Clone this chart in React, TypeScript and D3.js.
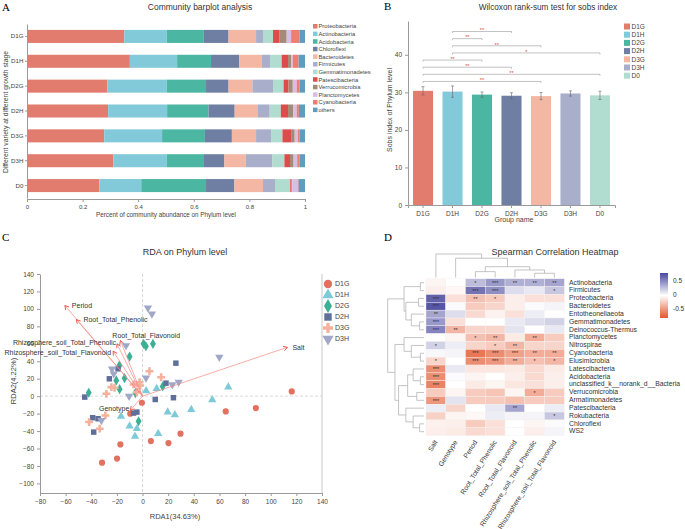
import React, { useRef, useEffect } from "react";
import * as d3 from "d3";

const W = 685;
const H = 529;
const FONT = "Liberation Sans, Arial, sans-serif";
const SERIF = "Liberation Serif, Times New Roman, serif";
const AXIS = "#9a9a9a";
const TXT = "#444";

// ---------- A: community barplot ----------
const groups = ["D1G", "D1H", "D2G", "D2H", "D3G", "D3H", "D0"];
const phyla = [
  "Proteobacteria", "Actinobacteria", "Acidobacteria", "Chloroflexi", "Bacteroidetes", "Firmicutes",
  "Gemmatimonadetes", "Patescibacteria", "Verrucomicrobia", "Planctomycetes", "Cyanobacteria", "others",
];
const phylaColors = [
  "#E27C6E", "#82CAD9", "#4BB6A1", "#6E7FA3", "#F3B7A3", "#A9AECB",
  "#B0DDD0", "#DD4B4B", "#A48B78", "#D8BEE3", "#EE7D72", "#5E9DBE",
];
// percent per group (D1G, D1H, D2G, D2H, D3G, D3H, D0)
const proteobacteria = [35.0, 37.0, 28.9, 29.2, 27.8, 31.1, 26.0];
const actinobacteria = [15.3, 17.0, 21.4, 21.2, 20.8, 19.2, 15.1];
const acidobacteria = [13.3, 12.2, 14.1, 14.9, 15.4, 13.1, 23.3];
const chloroflexi = [8.9, 10.1, 8.1, 9.4, 9.7, 7.6, 10.2];
const bacteroidetes = [9.9, 8.2, 8.6, 8.4, 8.7, 7.7, 10.3];
const firmicutes = [2.5, 2.9, 7.4, 4.2, 5.4, 9.6, 4.3];
const gemmatimonadetes = [3.6, 4.2, 3.8, 4.0, 4.1, 4.3, 5.5];
const patescibacteria = [2.2, 2.3, 1.8, 2.6, 3.1, 2.0, 0.4];
const verrucomicrobia = [2.7, 1.1, 1.5, 1.9, 1.3, 1.3, 0.3];
const planctomycetes = [1.6, 0.6, 1.4, 1.2, 1.1, 1.3, 2.0];
const cyanobacteria = [3.0, 2.1, 1.0, 0.8, 0.7, 0.9, 0.3];
const others = [2.0, 2.3, 2.0, 2.2, 1.9, 1.9, 2.3];

// ---------- B: sobs index ----------
const sobsMean = [30.4, 30.2, 29.4, 29.1, 29.0, 29.7, 29.2];
const sobsErr = [1.1, 1.5, 0.7, 0.8, 0.95, 0.7, 1.1];
const groupColors = ["#E27C6E", "#82CAD9", "#4BB6A1", "#6E7FA3", "#F3B7A3", "#A9AECB", "#B0DDD0"];
const sigFrom = ["D1G", "D1G", "D1G", "D1G", "D1H", "D1H", "D1H", "D1H"];
const sigTo = ["D3G", "D0", "D2H", "D2G", "D0", "D3G", "D2G", "D2H"];
const sigMark = ["**", "**", "**", "**", "*", "**", "**", "**"];

// ---------- C: RDA ----------
const rdaD1G = [[-0.5, -7.6], [-9.6, -20.1], [-17.3, -55.3], [-31.6, -76.2], [-19.9, -71.6], [6.5, -51.5], [20.2, -53.8], [29.6, -43], [64.9, -17.5], [88.4, -13.7], [116.4, 5.4]];
const rdaD1H = [[-16.8, -23.2], [-10.1, -34.3], [-4.4, -37.3], [-5.9, -46.1], [12.2, -43], [2.8, 6], [11, 8.8], [19.6, -18.3], [25.2, -21.3], [38, -15.4], [54.4, -4.1], [66.9, 10.3]];
const rdaD2G = [[-42, 3.9], [-18.1, 35.1], [-10.1, 45.4], [-14, 20.6], [-20.5, 18], [-17.9, 8], [-5.6, 3.5], [-3.1, -28.9], [0.8, 60], [2.6, 57.2], [8.1, 60], [15.7, 11.1]];
const rdaD2H = [[-45.1, -1.1], [-25.9, 19.9], [-19.1, 31.3], [-7, -19.4], [-4.4, -18.3], [-38.9, -24.7], [-34.7, -25.9], [-38.1, -41.2], [9.9, -3.8], [18.3, 14.9], [26, 37.8], [24.1, -1.8]];
const rdaD3G = [[-41.7, -29.7], [-33.4, -37.3], [-29, -22.1], [-28.2, 2.7], [-24.3, 10.3], [-21.8, 9.6], [-7, 13.4], [-2.3, 16], [-4.4, 4.6], [5.4, 28.6], [14.5, 21.7], [-1.8, 12.2]];
const rdaD3H = [[4.2, 101.1], [7.3, 94.3], [-12.9, 58], [-23.8, 31.3], [-22.5, 25.6], [-10.5, 0], [2.7, 20.8], [-32.1, -27.8], [23.2, 13.2], [28.2, 16], [59.9, 44.6]];
const rdaGroups = ["D1G", "D1H", "D2G", "D2H", "D3G", "D3H"];
const rdaColors = ["#E4705F", "#7FCAD8", "#3DAF95", "#5F6F9A", "#F4B29E", "#A1A7C7"];
const envNames = ["Period", "Root_Total_Phenolic", "Root_Total_Flavonoid", "Rhizosphere_soil_Total_Phenolic", "Rhizosphere_soil_Total_Flavonoid", "Genotype", "Salt"];
const envX = [-60.6, -51.6, -17.3, -19.9, -23, -9.5, 113];
const envY = [103.8, 87.8, 63.7, 60, 51.5, -16.3, 56];

// ---------- D: spearman heatmap ----------
const heatCols = ["Salt", "Genotype", "Period", "Root_Total_Phenolic", "Root_Total_Flavonoid", "Rhizosphere_soil_Total_Phenolic", "Rhizosphere_soil_Total_Flavonoid"];
const heatRows = [
  "Actinobacteria", "Firmicutes", "Proteobacteria", "Bacteroidetes", "Entotheonellaeota", "Gemmatimonadetes",
  "Deinococcus-Thermus", "Planctomycetes", "Nitrospirae", "Cyanobacteria", "Elusimicrobia", "Latescibacteria",
  "Acidobacteria", "unclassified_k__norank_d__Bacteria", "Verrucomicrobia", "Armatimonadetes", "Patescibacteria",
  "Rokubacteria", "Chloroflexi", "WS2",
];
const corr = [
  [-0.05, 0.0, 0.3, 0.45, 0.35, 0.35, 0.4],
  [-0.08, -0.04, 0.62, 0.5, 0.15, 0.1, 0.25],
  [0.7, -0.15, -0.3, -0.25, -0.08, -0.15, -0.15],
  [0.75, 0.02, -0.25, -0.2, -0.08, 0.02, 0.05],
  [0.4, 0.15, -0.18, -0.06, -0.15, 0.08, 0.0],
  [0.45, -0.15, 0.0, 0.0, 0.1, 0.15, 0.2],
  [0.55, -0.35, -0.2, -0.2, 0.12, 0.0, 0.1],
  [0.0, -0.05, -0.3, -0.35, -0.1, -0.4, -0.25],
  [0.2, 0.08, -0.2, -0.25, -0.35, -0.2, -0.2],
  [0.03, 0.05, -0.65, -0.55, -0.45, -0.4, -0.4],
  [-0.2, 0.0, -0.55, -0.5, -0.4, -0.3, -0.35],
  [-0.55, 0.1, -0.12, -0.12, -0.1, -0.18, -0.1],
  [-0.55, 0.02, -0.05, 0.0, -0.08, -0.18, -0.08],
  [-0.6, 0.0, -0.1, -0.05, -0.12, -0.15, -0.08],
  [-0.25, -0.05, -0.25, -0.28, -0.05, -0.4, -0.25],
  [-0.5, 0.12, -0.25, -0.25, -0.3, -0.25, -0.25],
  [0.08, -0.2, 0.0, 0.1, 0.4, 0.0, 0.08],
  [-0.22, -0.05, -0.03, 0.08, 0.05, 0.05, 0.25],
  [-0.07, -0.08, -0.25, -0.15, 0.0, -0.05, 0.02],
  [-0.08, -0.1, -0.18, -0.15, 0.0, -0.08, 0.05],
];
const stars = [
  ["", "", "*", "***", "**", "**", "**"],
  ["", "", "***", "***", "", "", "*"],
  ["***", "", "**", "*", "", "", ""],
  ["***", "", "", "", "", "", ""],
  ["**", "", "", "", "", "", ""],
  ["***", "", "", "", "", "", ""],
  ["***", "**", "", "", "", "", ""],
  ["", "", "*", "**", "", "**", ""],
  ["*", "", "", "*", "**", "", ""],
  ["", "", "***", "***", "***", "**", "**"],
  ["*", "", "***", "***", "**", "*", "*"],
  ["***", "", "", "", "", "", ""],
  ["***", "", "", "", "", "", ""],
  ["***", "", "", "", "", "", ""],
  ["", "", "", "", "", "*", ""],
  ["***", "", "", "", "", "", ""],
  ["", "", "", "", "**", "", ""],
  ["", "", "", "", "", "", "*"],
  ["", "", "", "", "", "", ""],
  ["", "", "", "", "", "", ""],
];
// dendrograms: leaf = row/col index, node = {h, c}
const rowTree = {
  h: 1, c: [
    { h: 0.55, c: [{ h: 0.1, c: [0, 1] }, { h: 0.5, c: [{ h: 0.15, c: [2, 3] }, { h: 0.35, c: [4, { h: 0.12, c: [5, 6] }] }] }] },
    {
      h: 0.8, c: [
        { h: 0.55, c: [7, { h: 0.35, c: [8, { h: 0.1, c: [9, 10] }] }] },
        {
          h: 0.7, c: [
            { h: 0.45, c: [{ h: 0.3, c: [11, { h: 0.1, c: [12, 13] }] }, { h: 0.2, c: [14, 15] }] },
            { h: 0.5, c: [16, { h: 0.3, c: [17, { h: 0.12, c: [18, 19] }] }] },
          ],
        },
      ],
    },
  ],
};
const colTree = {
  h: 1, c: [0, { h: 0.82, c: [1, { h: 0.46, c: [{ h: 0.25, c: [2, 3] }, { h: 0.32, c: [4, { h: 0.18, c: [5, 6] }] }] }] }],
};

function styleAxis(g: any, fs: number) {
  g.attr("font-family", FONT).attr("font-size", fs);
  g.selectAll(".domain").attr("stroke", AXIS);
  g.selectAll(".tick line").attr("stroke", AXIS);
  g.selectAll(".tick text").attr("fill", TXT);
}

function drawA(svg: any) {
  const g = svg.append("g");
  g.append("text").attr("x", 2).attr("y", 11).attr("font-family", SERIF).attr("font-size", 11).text("A");
  g.append("text").attr("x", 200).attr("y", 10).attr("text-anchor", "middle").attr("font-size", 8.5).attr("fill", "#333").text("Community barplot analysis");

  const x = d3.scaleLinear().domain([0, 1]).range([27, 305]);
  const y = d3.scaleBand().domain(groups).range([24, 198]).paddingInner(0.476).paddingOuter(0.238);
  const series = [proteobacteria, actinobacteria, acidobacteria, chloroflexi, bacteroidetes, firmicutes,
    gemmatimonadetes, patescibacteria, verrucomicrobia, planctomycetes, cyanobacteria, others];
  const rows = groups.map((grp, i) => {
    const o: any = { group: grp };
    const tot = d3.sum(series, (s) => s[i]);
    phyla.forEach((p, j) => (o[p] = series[j][i] / tot));
    return o;
  });
  const stacked = d3.stack().keys(phyla)(rows);
  g.selectAll("g.layer").data(stacked).join("g").attr("fill", (_: any, i: number) => phylaColors[i])
    .selectAll("rect").data((d: any) => d).join("rect")
    .attr("x", (d: any) => x(d[0])).attr("width", (d: any) => Math.max(0, x(d[1]) - x(d[0])))
    .attr("y", (d: any) => y(d.data.group)).attr("height", y.bandwidth());

  const ax = g.append("g").attr("transform", "translate(0,199)")
    .call(d3.axisBottom(x).ticks(5).tickFormat(d3.format("~g") as any).tickSize(3));
  styleAxis(ax, 6);
  const ay = g.append("g").attr("transform", "translate(27,0)")
    .call(d3.axisLeft(y).tickSize(2).tickPadding(1.5).tickSizeOuter(0));
  styleAxis(ay, 6.2);

  g.append("text").attr("x", 166).attr("y", 217).attr("text-anchor", "middle").attr("font-size", 6.3).attr("fill", TXT)
    .text("Percent of community abundance on Phylum level");
  g.append("text").attr("transform", "translate(7.5,112) rotate(-90)").attr("text-anchor", "middle").attr("font-size", 6.8).attr("fill", TXT)
    .text("Different variety at different growth stage");

  const lg = g.append("g").selectAll("g").data(phyla).join("g")
    .attr("transform", (_: any, i: number) => `translate(313,${24 + i * 7.6})`);
  lg.append("rect").attr("width", 4.5).attr("height", 4.5).attr("fill", (_: any, i: number) => phylaColors[i]);
  lg.append("text").attr("x", 5.5).attr("y", 4.3).attr("font-size", 5.8).attr("fill", TXT).text((d: string) => d);
}

function drawB(svg: any) {
  const g = svg.append("g");
  g.append("text").attr("x", 384).attr("y", 10).attr("font-family", SERIF).attr("font-size", 11).text("B");
  g.append("text").attr("x", 548).attr("y", 9.5).attr("text-anchor", "middle").attr("font-size", 8.2).attr("fill", "#333")
    .text("Wilcoxon rank-sum test for sobs index");

  const x = d3.scaleBand().domain(groups).range([408, 615]).paddingInner(0.32).paddingOuter(0.17);
  const y = d3.scaleLinear().domain([0, 49]).range([205, 21]);
  const cx = (gname: string) => (x(gname) as number) + x.bandwidth() / 2;

  g.selectAll("rect.bar").data(groups).join("rect")
    .attr("x", (d: string) => x(d)).attr("width", x.bandwidth())
    .attr("y", (_: any, i: number) => y(sobsMean[i])).attr("height", (_: any, i: number) => 205 - y(sobsMean[i]))
    .attr("fill", (_: any, i: number) => groupColors[i]);

  const eb = g.selectAll("g.eb").data(groups).join("g").attr("stroke", "#666").attr("stroke-width", 0.6);
  eb.append("line").attr("x1", cx).attr("x2", cx)
    .attr("y1", (_: any, i: number) => y(sobsMean[i] - sobsErr[i])).attr("y2", (_: any, i: number) => y(sobsMean[i] + sobsErr[i]));
  [-1, 1].forEach((s) => {
    eb.append("line").attr("x1", (d: string) => cx(d) - 1.5).attr("x2", (d: string) => cx(d) + 1.5)
      .attr("y1", (_: any, i: number) => y(sobsMean[i] + s * sobsErr[i])).attr("y2", (_: any, i: number) => y(sobsMean[i] + s * sobsErr[i]));
  });

  const ax = g.append("g").attr("transform", "translate(0,205)").call(d3.axisBottom(x).tickSize(3));
  styleAxis(ax, 6.5);
  const ay = g.append("g").attr("transform", "translate(408,0)").call(d3.axisLeft(y).ticks(5).tickSize(3).tickSizeOuter(0));
  styleAxis(ay, 6.5);

  // significance brackets
  sigFrom.forEach((f, i) => {
    const lvl = 32.9 + i * 1.9;
    const yy = y(lvl);
    const x1 = cx(f);
    const x2 = cx(sigTo[i]);
    g.append("path").attr("d", `M${x1},${yy + 1.5}V${yy}H${x2}V${yy + 1.5}`).attr("fill", "none").attr("stroke", "#999").attr("stroke-width", 0.6);
    g.append("text").attr("x", (x1 + x2) / 2).attr("y", yy + 0.8).attr("text-anchor", "middle").attr("font-size", 5.5).attr("fill", "#E04A3F").text(sigMark[i]);
  });

  g.append("text").attr("x", 514).attr("y", 222).attr("text-anchor", "middle").attr("font-size", 7).attr("fill", TXT).text("Group name");
  g.append("text").attr("transform", "translate(392,110) rotate(-90)").attr("text-anchor", "middle").attr("font-size", 7).attr("fill", TXT)
    .text("Sobs index of Phylum level");

  const lg = g.append("g").selectAll("g").data(groups).join("g")
    .attr("transform", (_: any, i: number) => `translate(624,${23.5 + i * 8.2})`);
  lg.append("rect").attr("width", 6).attr("height", 6).attr("fill", (_: any, i: number) => groupColors[i]);
  lg.append("text").attr("x", 7.5).attr("y", 5.3).attr("font-size", 6.5).attr("fill", TXT).text((d: string) => d);
}

const symbols = [d3.symbolCircle, d3.symbolTriangle, d3.symbolDiamond, d3.symbolSquare, d3.symbolCross, d3.symbolTriangle];

function drawC(svg: any) {
  const g = svg.append("g");
  g.append("text").attr("x", 2).attr("y", 241).attr("font-family", SERIF).attr("font-size", 11).text("C");
  g.append("text").attr("x", 185).attr("y", 255).attr("text-anchor", "middle").attr("font-size", 9).attr("fill", "#333").text("RDA on Phylum level");

  const x = d3.scaleLinear().domain([-80, 140]).range([40, 322]);
  const y = d3.scaleLinear().domain([-111, 140]).range([493, 274]);

  g.append("line").attr("x1", x(0)).attr("x2", x(0)).attr("y1", 274).attr("y2", 493).attr("stroke", "#c8c8c8").attr("stroke-dasharray", "3,2").attr("stroke-width", 0.7);
  g.append("line").attr("x1", 40).attr("x2", 322).attr("y1", y(0)).attr("y2", y(0)).attr("stroke", "#c8c8c8").attr("stroke-dasharray", "3,2").attr("stroke-width", 0.7);

  const ax = g.append("g").attr("transform", "translate(0,493)").call(d3.axisBottom(x).ticks(11).tickSize(3).tickSizeOuter(0));
  styleAxis(ax, 6.5);
  const ay = g.append("g").attr("transform", "translate(40,0)").call(d3.axisLeft(y).ticks(12).tickSize(3).tickSizeOuter(0));
  styleAxis(ay, 6.5);
  g.append("line").attr("x1", 322).attr("x2", 322).attr("y1", 274).attr("y2", 493).attr("stroke", "#c8c8c8");

  const sets = [rdaD1G, rdaD1H, rdaD2G, rdaD2H, rdaD3G, rdaD3H];
  sets.forEach((pts, gi) => {
    const sym = d3.symbol().type(symbols[gi]).size(gi === 4 ? 34 : 30);
    g.append("g").selectAll("path").data(pts).join("path")
      .attr("d", sym() as string)
      .attr("transform", (d: number[]) => `translate(${x(d[0])},${y(d[1])})${gi === 5 ? " rotate(180)" : ""}`)
      .attr("fill", rdaColors[gi]);
  });

  // environmental arrows
  const ox = x(0), oy = y(0);
  envNames.forEach((name, i) => {
    const tx = x(envX[i]), ty = y(envY[i]);
    const ang = Math.atan2(ty - oy, tx - ox);
    g.append("line").attr("x1", ox).attr("y1", oy).attr("x2", tx).attr("y2", ty).attr("stroke", "#F28A84").attr("stroke-width", 0.7);
    const L = 4.5, a = Math.PI / 6;
    g.append("path")
      .attr("d", `M${tx - L * Math.cos(ang - a)},${ty - L * Math.sin(ang - a)}L${tx},${ty}L${tx - L * Math.cos(ang + a)},${ty - L * Math.sin(ang + a)}`)
      .attr("fill", "none").attr("stroke", "#E8332B").attr("stroke-width", 0.8);
  });
  const place: Record<string, [string, number, number]> = {
    Period: ["start", 7, 1],
    Root_Total_Phenolic: ["start", 7, 1],
    Root_Total_Flavonoid: ["start", -8, -4],
    Rhizosphere_soil_Total_Phenolic: ["end", -1, -1],
    Rhizosphere_soil_Total_Flavonoid: ["end", -2, 2],
    Genotype: ["end", -1, -1],
    Salt: ["start", 5, 1],
  };
  envNames.forEach((name, i) => {
    const [anc, dx, dy] = place[name];
    g.append("text").attr("x", x(envX[i]) + dx).attr("y", y(envY[i]) + dy).attr("text-anchor", anc)
      .attr("font-size", 7).attr("fill", "#333").attr("dominant-baseline", "middle").text(name);
  });

  g.append("text").attr("x", 175).attr("y", 519).attr("text-anchor", "middle").attr("font-size", 7.5).attr("fill", TXT).text("RDA1(34.63%)");
  g.append("text").attr("transform", "translate(16,381) rotate(-90)").attr("text-anchor", "middle").attr("font-size", 7.5).attr("fill", TXT).text("RDA2(4.22%)");

  const lg = g.append("g").selectAll("g").data(rdaGroups).join("g")
    .attr("transform", (_: any, i: number) => `translate(328,${284 + i * 11})`);
  lg.append("path").attr("d", (_: any, i: number) => d3.symbol().type(symbols[i]).size(55)() as string)
    .attr("transform", (_: any, i: number) => (i === 5 ? "rotate(180)" : ""))
    .attr("fill", (_: any, i: number) => rdaColors[i]);
  lg.append("text").attr("x", 7).attr("y", 0).attr("dominant-baseline", "middle").attr("font-size", 7).attr("fill", TXT).text((d: string) => d);
}

function drawD(svg: any) {
  const g = svg.append("g");
  g.append("text").attr("x", 384).attr("y", 241).attr("font-family", SERIF).attr("font-size", 11).text("D");
  g.append("text").attr("x", 555).attr("y", 255).attr("text-anchor", "middle").attr("font-size", 9).attr("fill", "#333").text("Spearman Correlation Heatmap");

  const x = d3.scaleBand().domain(heatCols).range([426, 564.3]);
  const y = d3.scaleBand().domain(heatRows).range([278.8, 435.6]);
  const color = d3.scaleLinear<string>().domain([-0.8, 0, 0.8]).range(["#E4582F", "#FFFFFF", "#4B4BA0"]).clamp(true);

  heatRows.forEach((r, ri) => {
    heatCols.forEach((c, ci) => {
      g.append("rect").attr("x", x(c)).attr("y", y(r)).attr("width", x.bandwidth()).attr("height", y.bandwidth())
        .attr("fill", color(corr[ri][ci])).attr("stroke", "#f4f0ef").attr("stroke-width", 0.4);
      if (stars[ri][ci]) {
        g.append("text").attr("x", (x(c) as number) + x.bandwidth() / 2).attr("y", (y(r) as number) + y.bandwidth() / 2 + 2.2)
          .attr("text-anchor", "middle").attr("font-size", 5.5).attr("fill", "#333").text(stars[ri][ci]);
      }
    });
    g.append("text").attr("x", 569).attr("y", (y(r) as number) + y.bandwidth() / 2).attr("dominant-baseline", "middle")
      .attr("font-size", 6.8).attr("fill", "#333").text(r);
  });
  heatCols.forEach((c) => {
    const cx = (x(c) as number) + x.bandwidth() / 2 + 2;
    g.append("text").attr("transform", `translate(${cx},442) rotate(-58)`).attr("text-anchor", "end")
      .attr("font-size", 6.8).attr("fill", "#333").text(c);
  });

  // dendrograms
  const dg = g.append("g").attr("fill", "none").attr("stroke", "#aaa").attr("stroke-width", 0.7);
  const rowH = (h: number) => 424 - h * 36.3;
  const walkRow = (n: any): [number, number] => {
    if (typeof n === "number") return [(y(heatRows[n]) as number) + y.bandwidth() / 2, 0];
    const a = walkRow(n.c[0]);
    const b = walkRow(n.c[1]);
    const hx = rowH(n.h);
    dg.append("path").attr("d", `M${rowH(a[1])},${a[0]}H${hx}V${b[0]}H${rowH(b[1])}`);
    return [(a[0] + b[0]) / 2, n.h];
  };
  walkRow(rowTree);
  const colH = (h: number) => 277.5 - h * 23.5;
  const walkCol = (n: any): [number, number] => {
    if (typeof n === "number") return [(x(heatCols[n]) as number) + x.bandwidth() / 2, 0];
    const a = walkCol(n.c[0]);
    const b = walkCol(n.c[1]);
    const hy = colH(n.h);
    dg.append("path").attr("d", `M${a[0]},${colH(a[1])}V${hy}H${b[0]}V${colH(b[1])}`);
    return [(a[0] + b[0]) / 2, n.h];
  };
  walkCol(colTree);

  // colour legend
  const ly = d3.scaleLinear().domain([0.82, -0.82]).range([273, 318]);
  const defs = svg.append("defs");
  const grad = defs.append("linearGradient").attr("id", "hgrad").attr("x1", 0).attr("x2", 0).attr("y1", 0).attr("y2", 1);
  d3.range(0, 1.0001, 0.1).forEach((t) => {
    grad.append("stop").attr("offset", t).attr("stop-color", color(ly.invert(273 + t * 45)));
  });
  g.append("rect").attr("x", 660).attr("y", 273).attr("width", 8).attr("height", 45).attr("fill", "url(#hgrad)");
  [0.5, 0, -0.5].forEach((v) => {
    g.append("text").attr("x", 673).attr("y", ly(v)).attr("dominant-baseline", "middle").attr("font-size", 6.5).attr("fill", "#333").text(String(v));
  });
}

export default function App() {
  const ref = useRef<SVGSVGElement>(null);
  useEffect(() => {
    const svg = d3.select(ref.current);
    svg.selectAll("*").remove();
    svg.attr("font-family", FONT);
    drawA(svg);
    drawB(svg);
    drawC(svg);
    drawD(svg);
  }, []);
  return <svg ref={ref} width={W} height={H} style={{ position: "absolute", left: 0, top: 0, background: "#fff" }} />;
}
